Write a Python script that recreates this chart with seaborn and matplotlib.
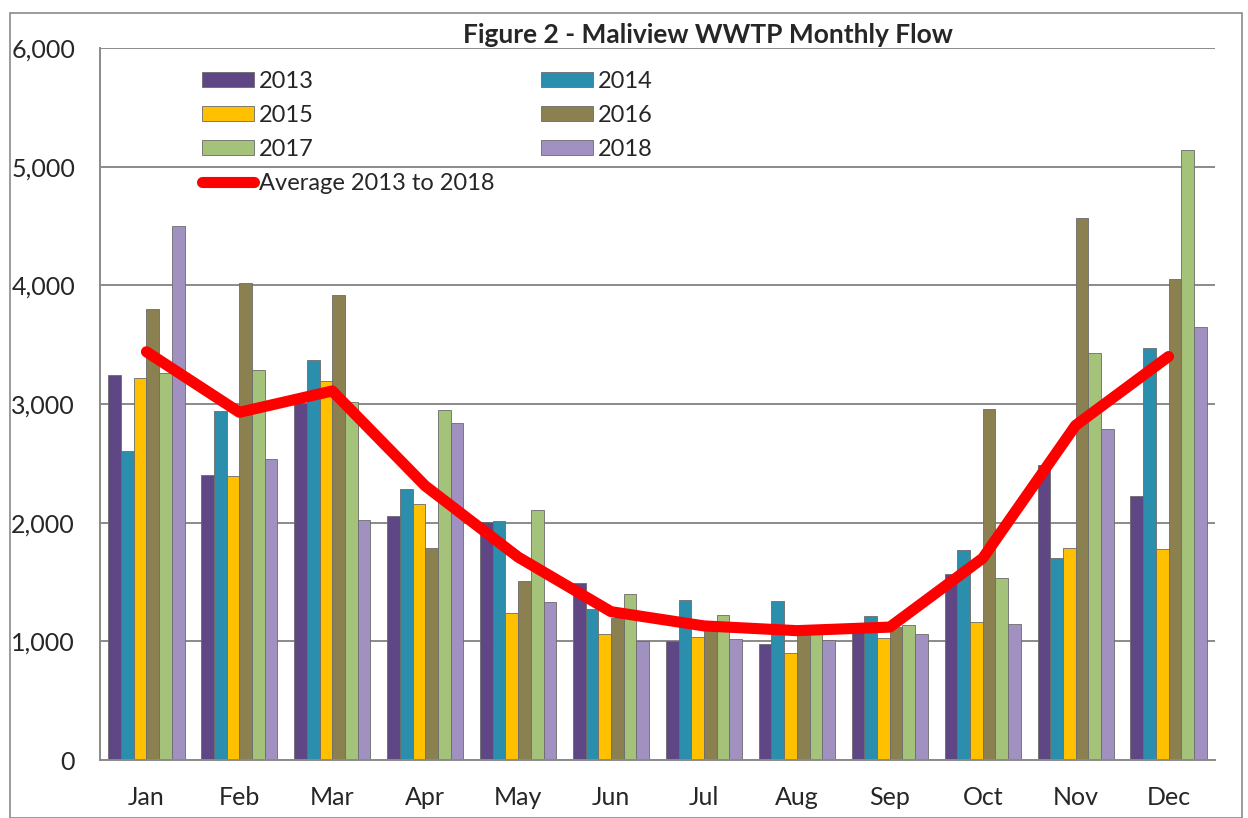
import numpy as np
import pandas as pd
import matplotlib
matplotlib.use("Agg")
import matplotlib.pyplot as plt
import matplotlib.patches as mpatches
import seaborn as sns

months = ["Jan", "Feb", "Mar", "Apr", "May", "Jun",
          "Jul", "Aug", "Sep", "Oct", "Nov", "Dec"]
years = ["2013", "2014", "2015", "2016", "2017", "2018"]

flow_2013 = [3245, 2400, 3010, 2055, 2005, 1490, 1003, 980, 1100, 1570, 2483, 2224]
flow_2014 = [2600, 2940, 3370, 2285, 2010, 1275, 1350, 1340, 1210, 1766, 1703, 3472]
flow_2015 = [3220, 2390, 3190, 2156, 1240, 1058, 1040, 905, 1030, 1162, 1783, 1776]
flow_2016 = [3800, 4020, 3920, 1787, 1505, 1200, 1100, 1080, 1120, 2962, 4566, 4052]
flow_2017 = [3260, 3290, 3020, 2950, 2110, 1396, 1220, 1070, 1140, 1531, 3431, 5138]
flow_2018 = [4500, 2540, 2020, 2837, 1330, 1007, 1020, 1014, 1060, 1145, 2793, 3652]
avg_flow = [3440, 2930, 3110, 2310, 1710, 1250, 1130, 1090, 1120, 1700, 2820, 3400]

colors = ["#5E4784", "#2B8EAC", "#FFC000", "#8B8050", "#A5C27B", "#A091C0"]

df = pd.DataFrame({
    "month": months * 6,
    "year": np.repeat(years, 12),
    "flow": flow_2013 + flow_2014 + flow_2015 + flow_2016 + flow_2017 + flow_2018,
})

sns.set_style("white")
plt.rcParams["font.family"] = ["Lato", "DejaVu Sans"]

fig = plt.figure(figsize=(12.48, 8.18), dpi=100)
ax = fig.add_axes([100 / 1248, 1 - 760 / 818, 1115 / 1248, 712 / 818])

sns.barplot(data=df, x="month", y="flow", hue="year", palette=colors,
            order=months, hue_order=years, width=0.82, saturation=1,
            edgecolor="#6b6b6b", linewidth=0.6, ax=ax)

sns.lineplot(x=np.arange(12), y=avg_flow, color="#FF0000", linewidth=8,
             solid_capstyle="round", solid_joinstyle="round", ax=ax,
             label="Average 2013 to 2018")

ax.set_ylim(0, 6000)
ax.set_xlim(-0.5, 11.5)
ax.set_yticks(range(0, 6001, 1000))
ax.set_yticklabels([f"{v:,}" for v in range(0, 6001, 1000)])
ax.yaxis.grid(True, color="#8a8a8a", linewidth=1.4)
ax.set_axisbelow(True)
ax.set_xlabel("")
ax.set_ylabel("")
ax.tick_params(axis="y", labelsize=18, pad=18, length=0)
ax.tick_params(axis="x", labelsize=18, pad=18.5, length=0)
for s in ["top", "right"]:
    ax.spines[s].set_visible(False)
ax.spines["left"].set_color("#8a8a8a")
ax.spines["bottom"].set_color("#8a8a8a")
ax.spines["left"].set_linewidth(1.4)
ax.spines["bottom"].set_linewidth(1.4)

# legend: two columns read row by row
handles, labels = ax.get_legend_handles_labels()
lookup = dict(zip(labels, handles))
order = ["2013", "2015", "2017", "Average 2013 to 2018", "2014", "2016", "2018"]
hh = [lookup[k] for k in order] + [mpatches.Patch(alpha=0)]
ll = order + [""]
ax.legend(hh, ll, ncol=2, frameon=False, fontsize=17, loc="upper left",
          bbox_to_anchor=(0.083, 0.981), handlelength=2.2, handleheight=0.6,
          handletextpad=0.2, columnspacing=2.0, labelspacing=0.55,
          borderaxespad=0)

fig.text(708 / 1248, 1 - 35 / 818, "Figure 2 - Maliview WWTP Monthly Flow",
         ha="center", va="center", fontsize=19, fontweight="bold")

fig.patches.append(mpatches.Rectangle((10 / 1248, 0), 1232 / 1248, 1 - 13 / 818,
                                      transform=fig.transFigure, fill=False,
                                      edgecolor="#8a8a8a", linewidth=1.2))

fig.savefig("out.png", dpi=100)
